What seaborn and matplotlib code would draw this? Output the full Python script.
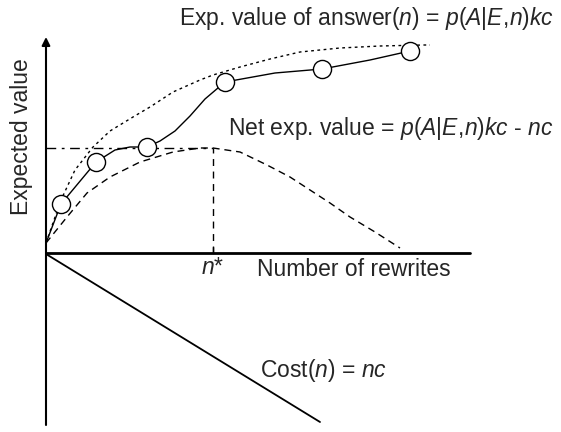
import matplotlib
matplotlib.use("Agg")
import matplotlib.pyplot as plt
import seaborn as sns

# Schematic values (x = number of rewrites, y = expected value, arbitrary units)
obs_x = [15, 50, 101, 179, 276, 364]
obs_y = [49, 91, 106, 171, 184, 202]

# observed curve passing through the circles
solid_x = [0, 15, 50, 69, 84, 101, 114, 129, 144, 159, 179, 229, 276, 324, 364]
solid_y = [10, 49, 91, 103, 106, 106, 112, 122, 137, 154, 171, 180, 184, 193, 202]

# Exp. value of answer(n)
exp_x = [0, 15, 29, 47, 64, 87, 104, 127, 154, 167, 194, 224, 254, 294, 334, 377, 384]
exp_y = [10, 53, 83, 106, 122, 136, 146, 161, 173, 178, 186, 194, 201, 205, 207, 208, 208]

# Net exp. value
net_x = [0, 21, 41, 64, 94, 127, 154, 167, 194, 221, 244, 264, 284, 304, 329, 354]
net_y = [10, 36, 60, 76, 91, 101, 105, 105, 101, 88, 76, 63, 50, 36, 21, 5]

# Cost(n)
cost_x = [0, 274]
cost_y = [-1, -169]

n_star = 167
net_max = 105

sns.set_style("white")
plt.rcParams['font.family'] = ['Liberation Sans', 'DejaVu Sans']
plt.rcParams['mathtext.fontset'] = 'custom'
plt.rcParams['mathtext.rm'] = 'Liberation Sans'
plt.rcParams['mathtext.it'] = 'Liberation Sans:italic'

fig = plt.figure(figsize=(5.61, 4.32), dpi=100)
ax = fig.add_axes([0, 0, 1, 1])
ax.set_xlim(-46, 515)
ax.set_ylim(-179, 253)
ax.axis('off')

# axes of the schematic
ax.plot([0, 424], [0, 0], color='black', lw=2)
ax.annotate('', xy=(0, 216), xytext=(0, -172),
            arrowprops=dict(arrowstyle='-|>', color='black', lw=1.5,
                            mutation_scale=12, shrinkA=0, shrinkB=0))

# curves
sns.lineplot(x=exp_x, y=exp_y, sort=False, color='black', lw=1,
             linestyle=(0, (2, 2.5)), ax=ax)
sns.lineplot(x=net_x, y=net_y, sort=False, color='black', lw=1,
             linestyle=(0, (5, 3.5)), ax=ax)
sns.lineplot(x=solid_x, y=solid_y, sort=False, color='black', lw=1, ax=ax)
sns.lineplot(x=cost_x, y=cost_y, sort=False, color='black', lw=1.3, ax=ax)
sns.scatterplot(x=obs_x, y=obs_y, s=170, facecolor='white', edgecolor='black',
                linewidth=1, zorder=5, ax=ax)

# optimum guides
ax.plot([0, n_star], [net_max, net_max], color='black', lw=1,
        linestyle=(0, (7, 4, 2, 4)))
ax.plot([n_star, n_star], [0, net_max], color='black', lw=1,
        linestyle=(0, (5, 4)))
ax.plot([n_star, n_star], [0, 6], color='black', lw=1)

fs = 16.5
ax.text(508, 235, r"Exp. value of answer($n$) = $p(A|E,\!n)kc$",
        fontsize=fs, va='center', ha='right')
ax.text(508, 124, r"Net exp. value = $p(A|E,\!n)kc$ - $nc$",
        fontsize=fs, va='center', ha='right')
ax.text(-24, 116, "Expected value", fontsize=fs, rotation=90,
        va='center', ha='center')
ax.text(211, -17, "Number of rewrites", fontsize=fs, va='center', ha='left')
ax.text(n_star, -14, r"$n$*", fontsize=fs, va='center', ha='center')
ax.text(214, -117, r"Cost($n$) = $nc$", fontsize=fs, va='center', ha='left')

fig.savefig("out.png", dpi=100)
